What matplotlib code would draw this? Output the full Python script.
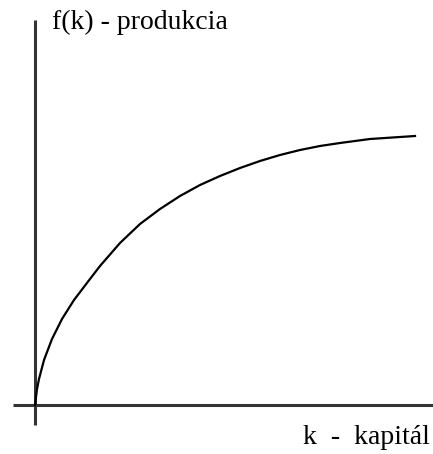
import matplotlib.pyplot as plt

# Production function f(k)
k = [0, 2, 4, 9, 17, 27, 39, 55, 65, 85, 105, 125, 145, 165, 185, 205, 225,
     245, 265, 285, 305, 335, 365, 380]
f = [0, 16, 26, 45, 66, 86, 105, 126, 139, 162, 181, 196, 209, 220, 229, 237,
     244, 250, 255, 259, 262, 266, 268, 269]

plt.rcParams['font.family'] = ['Liberation Serif', 'DejaVu Serif']

fig = plt.figure(figsize=(4.33, 4.54), dpi=100)
ax = fig.add_axes([0, 0, 1, 1])
ax.set_xlim(-35, 398)
ax.set_ylim(-49, 405)
ax.axis('off')

# Axes drawn as plain lines crossing at the origin
ax.plot([-22, 398], [0, 0], color='#333333', lw=2.2, solid_capstyle='butt')
ax.plot([0, 0], [-20, 385], color='#333333', lw=2.2, solid_capstyle='butt')

ax.plot(k, f, color='black', lw=1.6, solid_joinstyle='round')

ax.text(17, 383, 'f(k) - produkcia', fontsize=20, ha='left', va='center')
ax.text(395, -33, 'k  -  kapitál', fontsize=20, ha='right', va='center')

plt.savefig('out.png', dpi=100)
